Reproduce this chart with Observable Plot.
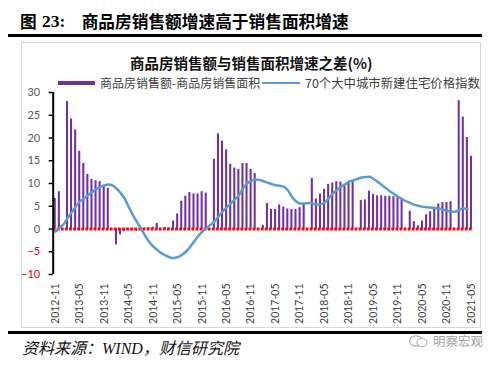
<!DOCTYPE html>
<html><head><meta charset="utf-8">
<script src="https://cdn.jsdelivr.net/npm/d3@7"></script>
<script src="https://cdn.jsdelivr.net/npm/@observablehq/plot@0.6"></script>
<style>
body{margin:0;background:#fff;}
#wrap{position:relative;width:500px;height:366px;overflow:hidden;font-family:"Noto Sans CJK SC",sans-serif;}
.abs{position:absolute;white-space:nowrap;line-height:1;}
#chart{position:absolute;left:0;top:0;}
</style></head><body><div id="wrap">
<div class="abs" style="left:20px;top:13px;font-size:16.7px;font-weight:700;color:#000;">图</div>
<div class="abs" style="left:42px;top:13px;font-size:17.5px;font-weight:700;color:#000;font-family:'Liberation Serif',serif;">23:</div>
<div class="abs" style="left:81.7px;top:13px;font-size:16.7px;font-weight:700;color:#000;">商品房销售额增速高于销售面积增速</div>
<div class="abs" style="left:8px;top:33.5px;width:474px;height:3px;background:#000;"></div>
<div class="abs" style="left:21px;top:42px;width:458px;height:284px;border:1px solid #d9d9d9;"></div>
<div class="abs" style="left:130px;top:55.5px;font-size:14.5px;font-weight:700;color:#111;">商品房销售额与销售面积增速之差(%)</div>
<div class="abs" style="left:58px;top:80.5px;width:37px;height:4.5px;background:#7030a0;"></div>
<div class="abs" style="left:100px;top:76.5px;font-size:12px;color:#404040;">商品房销售额-商品房销售面积</div>
<div class="abs" style="left:262px;top:81.5px;width:38px;height:2px;background:#5b9bd5;"></div>
<div class="abs" style="left:305px;top:76.5px;font-size:12.4px;color:#404040;">70个大中城市新建住宅价格指数</div>
<div id="chart"></div>
<div class="abs" style="left:8px;top:331px;width:474px;height:2.5px;background:#000;"></div>
<div class="abs" style="left:22px;top:339px;font-size:16px;font-style:italic;color:#111;">资料来源：<span style="font-family:'Liberation Serif',serif;">WIND</span>，财信研究院</div>
<svg class="abs" style="left:408px;top:334px;" width="22" height="14" viewBox="0 0 22 14"><ellipse cx="8" cy="7" rx="6.5" ry="5.2" fill="none" stroke="#b0b0b0" stroke-width="1.2"/><ellipse cx="14" cy="8.5" rx="5" ry="4" fill="#fff" stroke="#b0b0b0" stroke-width="1.2"/></svg>
<div class="abs" style="left:433px;top:334.5px;font-size:12.5px;color:#a0a0a0;">明察宏观</div>
</div>
<script>
// Monthly categories 2012-11 .. 2021-05
const months = d3.utcMonth.range(new Date(Date.UTC(2012,10,1)), new Date(Date.UTC(2021,5,1))).map(d3.utcFormat("%Y-%m"));
const tickLabels = ["2012-11","2013-05","2013-11","2014-05","2014-11","2015-05","2015-11","2016-05","2016-11","2017-05","2017-11","2018-05","2018-11","2019-05","2019-11","2020-05","2020-11","2021-05"];
// 商品房销售额 - 商品房销售面积 (增速之差, %), January not published
const diffValues = [
  6.7, 8.2,
  null, 28.0, 24.2, 21.8, 17.1, 14.4, 12.0, 10.9, 10.6, 10.4, 9.6, 8.9,
  null, -3.5, -1.3, -0.6, -0.4, -0.3, -0.5, -0.3, 0.2, 0.3, 0.4, 1.2,
  null, 0.3, 0.2, 1.75, 3.3, 6.1, 7.2, 8.0, 7.7, 7.7, 8.2, 7.9,
  null, 15.3, 20.9, 19.3, 17.4, 14.2, 13.4, 13.1, 14.4, 14.4, 13.1, 12.2,
  null, 0.8, 5.6, 4.3, 4.3, 5.3, 4.8, 4.4, 4.3, 4.3, 4.7, 5.6,
  null, 11.1, 6.6, 7.7, 8.7, 9.8, 10.1, 10.4, 10.3, 9.8, 10.4, 10.5,
  null, 6.3, 6.4, 8.3, 7.6, 7.3, 7.3, 7.2, 7.2, 7.1, 6.9, 6.7,
  null, 3.9, 1.6, 0.7, 1.75, 3.1, 3.8, 4.5, 5.5, 5.8, 5.8, 6.0,
  null, 28.2, 24.6, 20.1, 16.0
];
// 70个大中城市新建住宅价格指数 (同比, %)
const priceIndex = [
  -0.6, 0.2,
  1.0, 2.4, 3.6, 4.9, 6.0, 6.7, 7.4, 8.1, 8.7, 9.2, 9.6, 9.8,
  9.6, 8.9, 7.9, 6.7, 4.9, 3.1, 1.6, 0.1, -1.4, -2.8, -3.8, -4.6,
  -5.3, -5.8, -6.2, -6.4, -6.2, -5.7, -5.0, -4.0, -2.8, -1.6, -0.6, 0.1,
  0.9, 1.6, 2.7, 3.8, 4.7, 5.6, 6.5, 7.4, 8.9, 10.0, 10.6, 10.9,
  10.8, 10.5, 10.2, 9.9, 9.6, 9.5, 9.3, 8.5, 7.1, 6.1, 5.6, 5.6,
  5.7, 5.6, 5.4, 5.4, 5.8, 6.7, 7.8, 8.5, 9.3, 9.8, 10.4, 10.7,
  11.0, 11.3, 11.4, 11.5, 11.0, 10.4, 9.7, 9.0, 8.3, 7.7, 7.1, 6.6,
  6.1, 5.7, 5.3, 5.1, 4.9, 4.8, 4.7, 4.6, 4.5, 4.3, 4.0, 3.8,
  3.8, 4.2, 4.5, 4.4, null
];
const yPosTicks = [0, 5, 10, 15, 20, 25, 30];
const yNegTicks = [-5, -10];

const barRows = months.map((m, i) => ({i, m, v: diffValues[i]})).filter(d => d.v != null);
const lineRows = months.map((m, i) => ({i, m, v: priceIndex[i]})).filter(d => d.v != null);
const tickIdx = tickLabels.map(t => months.indexOf(t));

const chart = Plot.plot({
  width: 500, height: 366,
  marginLeft: 52.7, marginRight: 27, marginTop: 92, marginBottom: 92,
  x: {type: "linear", domain: [-0.5, months.length - 0.5], label: null},
  y: {domain: [-10, 30], label: null},
  style: {background: "transparent", fontFamily: "Lato, 'Open Sans', sans-serif", overflow: "visible"},
  marks: [
    Plot.rect(barRows, {x1: d => d.i - 0.25, x2: d => d.i + 0.25, y1: () => 0, y2: "v", fill: "#7030a0"}),
    Plot.ruleY([0], {stroke: "#ff0000", strokeWidth: 3, strokeDasharray: "2.8,1.28"}),
    Plot.line(lineRows, {x: "i", y: "v", stroke: "#5b9bd5", strokeWidth: 2.5, curve: "monotone-x"}),
    Plot.ruleX([-0.5], {stroke: "#000", strokeWidth: 2}),
    Plot.axisY({ticks: yPosTicks, tickSize: 4, tickPadding: 9, fill: "#595959", stroke: "#000", strokeWidth: 1.5, fontSize: 11, label: null}),
    Plot.axisY({ticks: yNegTicks, tickSize: 4, tickPadding: 9, fill: "#e00000", stroke: "#000", strokeWidth: 1.5, fontSize: 11, label: null}),
    Plot.axisX({ticks: tickIdx, tickFormat: i => months[i], tickRotate: -90, tickSize: 0, tickPadding: 9, fontSize: 10.5, fill: "#404040", label: null})
  ]
});
document.getElementById("chart").appendChild(chart);
</script>
</body></html>
